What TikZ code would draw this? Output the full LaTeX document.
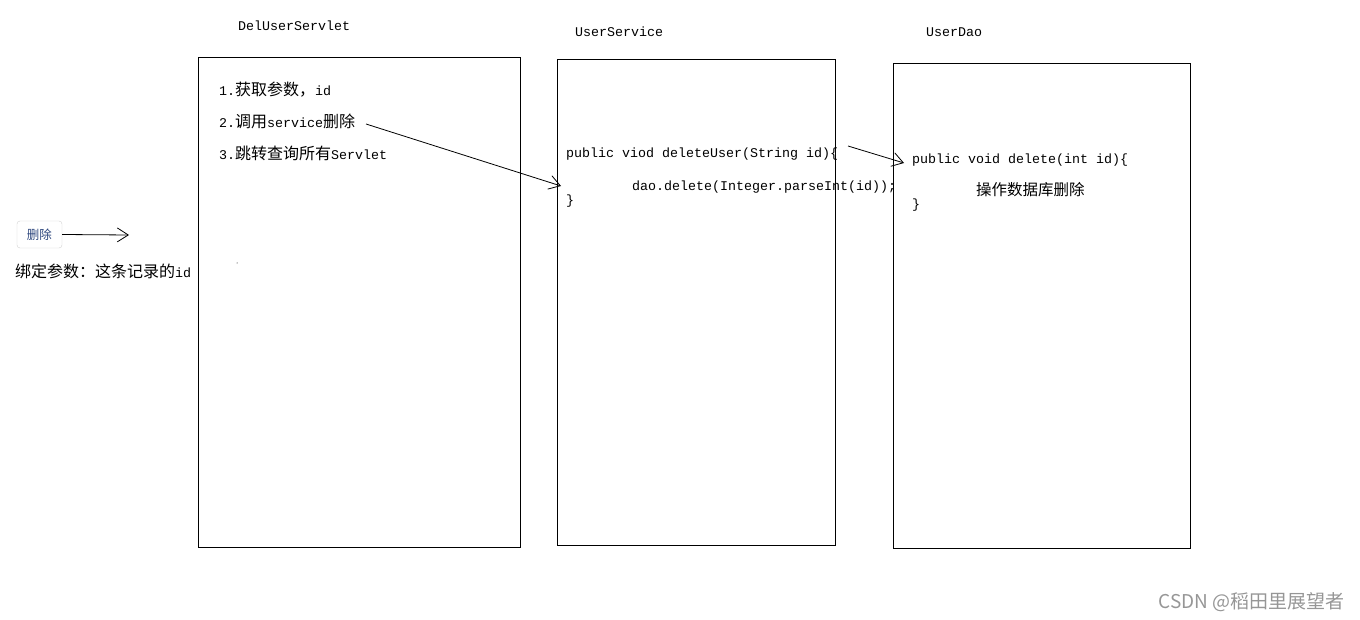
\documentclass[tikz,border=0pt]{standalone}
\usepackage{fontspec}
\setmonofont{Liberation Mono}
\newfontfamily\cjk[Scale=1.2]{Noto Sans CJK SC}
\newfontfamily\cjksans{Noto Sans CJK SC}
\usetikzlibrary{arrows.meta}
\newcommand\zh[1]{{\cjk #1}}
\definecolor{wmgray}{RGB}{150,150,150}
\definecolor{btnblue}{RGB}{45,70,125}
\tikzset{
  txt/.style={inner sep=0pt, anchor=base west, font=\fontsize{13.33}{16}\selectfont\ttfamily},
  panel/.style={draw, line width=0.8pt, minimum width=#1, inner sep=0pt},
  conn/.style={line width=0.8pt, -{Straight Barb[length=11pt,width=14pt,line width=0.8pt]}},
}
\begin{document}
\begin{tikzpicture}[x=1pt,y=-1pt]
\useasboundingbox (0,0) rectangle (1360,620);
% panels
\node[panel=322pt, minimum height=490pt] (servlet) at (359,302) {};
\node[panel=278pt, minimum height=486pt] (service) at (696,302) {};
\node[panel=297pt, minimum height=485pt] (dao) at (1041.5,305.5) {};
% titles
\node[txt] (t1) at (238,31) {DelUserServlet};
\node[txt] (t2) at (575,37) {UserService};
\node[txt] (t3) at (926,37) {UserDao};
% button
\node[draw=black!18, rounded corners=3pt, minimum width=45pt, minimum height=27pt, inner sep=0pt,
      font=\cjksans\fontsize{12.5}{13}\selectfont, text=btnblue] (btn) at (39.5,234.5) {删除};
\coordinate (btnend) at (129,235);
\draw[conn] (btn.east) -- (btnend);
\node[txt] (bind) at (15,278) {\zh{绑定参数：这条记录的}id};
% servlet steps
\node[txt] (s1) at (219,96) {1.\zh{获取参数，}id};
\node[txt] (s2) at (219,128) {2.\zh{调用}service\zh{删除}};
\node[txt] (s3) at (219,160) {3.\zh{跳转查询所有}Servlet};
\fill (237,263) circle (0.5pt);
% service code
\node[txt] (c1) at (566,158) {public viod deleteUser(String id)\{};
\node[txt] (c2) at (632,191) {dao.delete(Integer.parseInt(id));};
\node[txt] (c3) at (566,205) {\}};
% dao code
\node[txt] (d1) at (912,164) {public void delete(int id)\{};
\node[inner sep=0pt, anchor=base west, font=\cjksans\fontsize{15.5}{16}\selectfont] (d2) at (976,196) {操作数据库删除};
\node[txt] (d3) at (912,209) {\}};
% connectors
\coordinate (a1s) at (366,124);
\coordinate (a1e) at (561,186);
\draw[conn] (a1s) -- (a1e);
\coordinate (a2s) at (848,146);
\coordinate (a2e) at (904,163);
\draw[conn] (a2s) -- (a2e);
% watermark
\node[inner sep=0pt, anchor=base east, font=\cjksans\fontsize{19}{20}\selectfont, text=wmgray] (wm) at (1345,608) {CSDN @稻田里展望者};
\end{tikzpicture}
\end{document}
